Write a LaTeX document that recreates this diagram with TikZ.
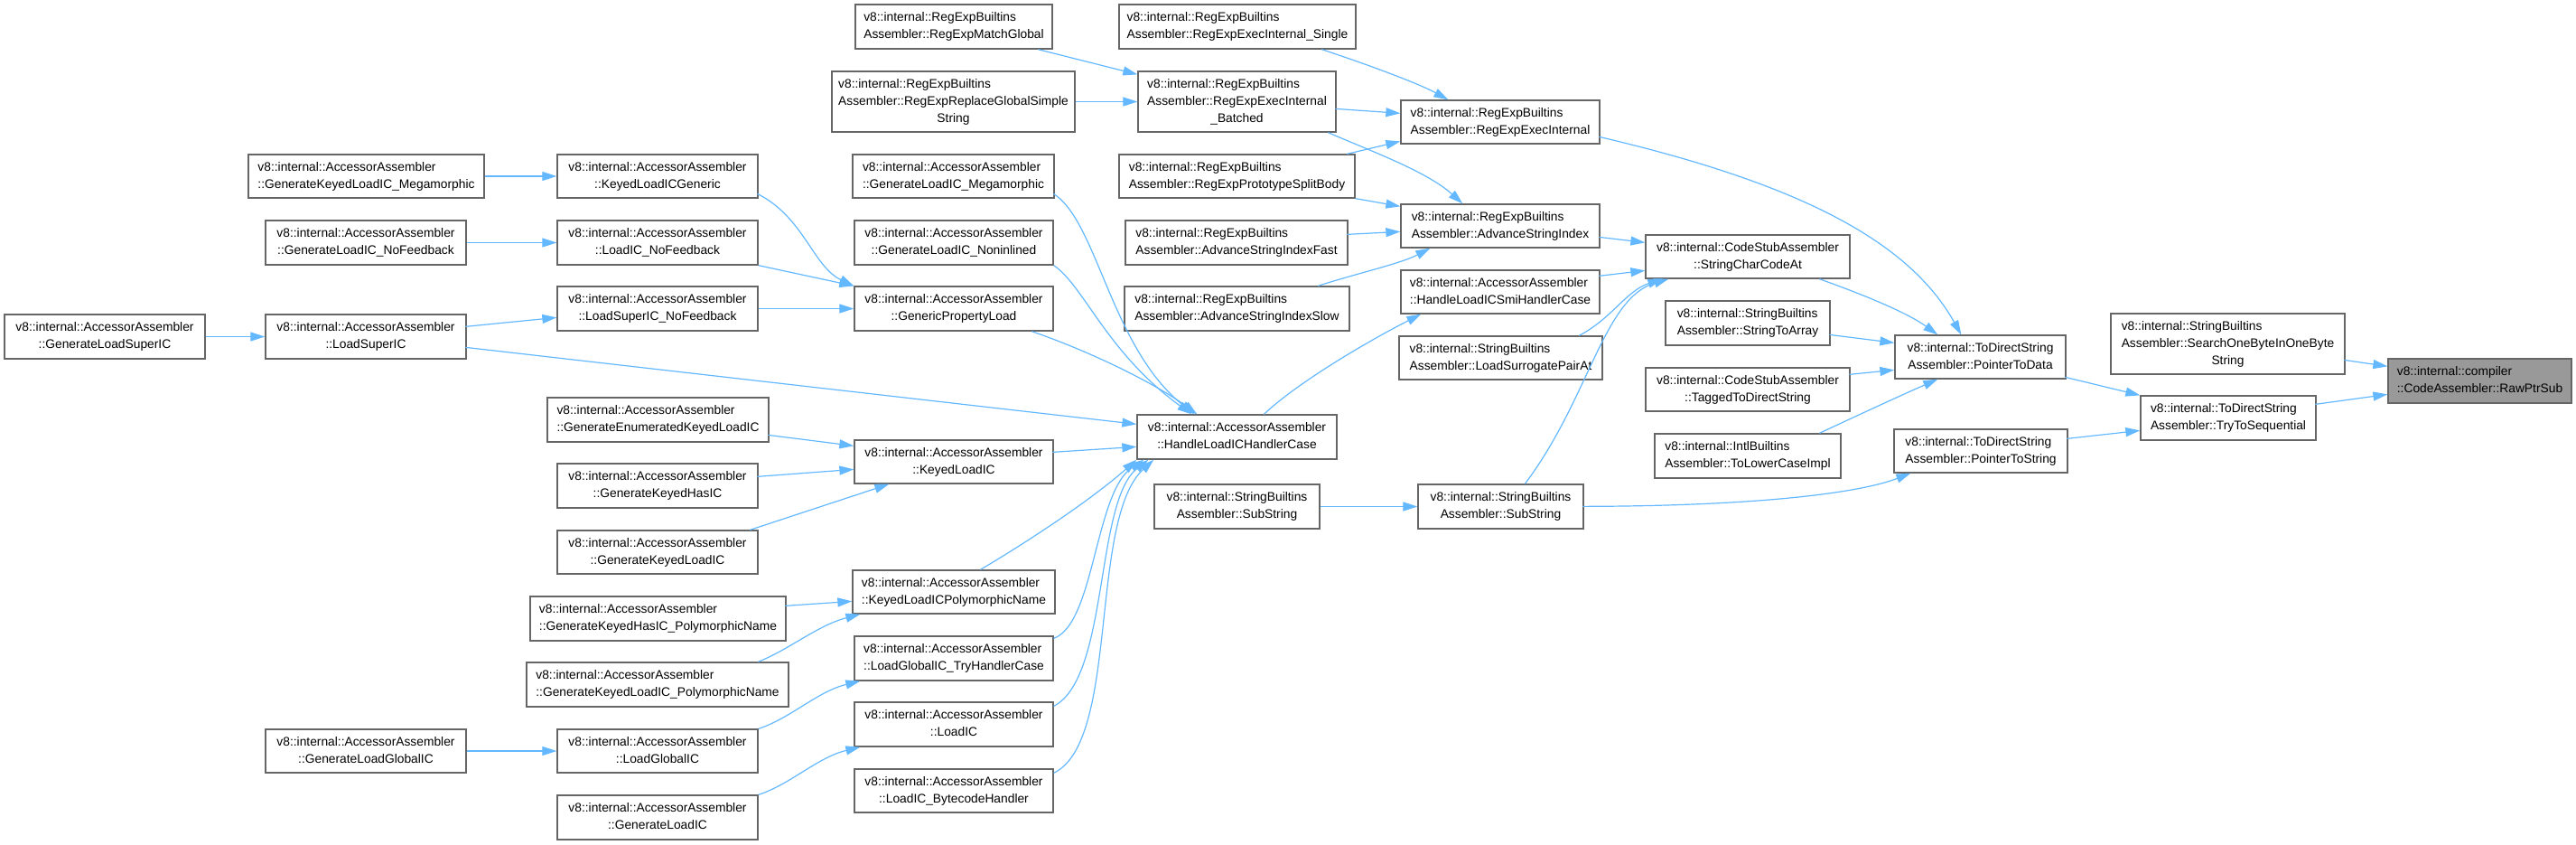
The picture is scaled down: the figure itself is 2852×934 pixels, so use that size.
\documentclass[tikz,border=0pt]{standalone}
\usepackage{fontspec}
\setmainfont{Liberation Sans}
\usetikzlibrary{arrows.meta,calc}
\definecolor{edgec}{HTML}{63B8FF}
\definecolor{boxc}{HTML}{666666}
\definecolor{fillg}{HTML}{999999}
\newdimen\lblw
\newcommand\twoL[2]{{\setbox0=\hbox{\strut#1}\setbox2=\hbox{\strut#2}%
 \lblw=\wd0\relax \ifdim\wd2>\lblw \lblw=\wd2\relax \fi
 \vbox{\hbox to\lblw{\box0\hfil}\hbox to\lblw{\hfil\box2\hfil}}}}
\newcommand\threeL[3]{{\setbox0=\hbox{\strut#1}\setbox2=\hbox{\strut#2}\setbox4=\hbox{\strut#3}%
 \lblw=\wd0\relax \ifdim\wd2>\lblw \lblw=\wd2\relax \fi \ifdim\wd4>\lblw \lblw=\wd4\relax \fi
 \vbox{\hbox to\lblw{\box0\hfil}\hbox to\lblw{\box2\hfil}\hbox to\lblw{\hfil\box4\hfil}}}}
\tikzset{
  box/.style={draw=boxc,line width=0.65pt,fill=white,inner sep=0pt,
    font=\fontsize{6.9}{9.5}\selectfont},
  arr/.style={draw=edgec,line width=0.6pt,-{Triangle[length=8pt,width=5pt]}}
}
\newcommand\N[7][]{\node[box,#1,minimum width={(#5-#3)*0.5pt},minimum height={(#6-#4)*0.5pt}] (#2) at ({(#3+#5)/2},{(#4+#6)/2}) {#7};}
\def\AA{v8::internal::AccessorAssembler}
\def\RB{v8::internal::RegExpBuiltins}
\def\SB{v8::internal::StringBuiltins}
\def\CSA{v8::internal::CodeStubAssembler}
\def\TDS{v8::internal::ToDirectString}
\begin{document}
\begin{tikzpicture}[x=0.5pt,y=-0.5pt]
\useasboundingbox (0,0) rectangle (2852,934);
% column 1-2
\N{gLSIC}{5}{348}{227}{397}{\twoL{\AA}{::GenerateLoadSuperIC}}
\N{gKMeg}{275}{171}{536}{219}{\twoL{\AA}{::GenerateKeyedLoadIC\_Megamorphic}}
\N{gLNoF}{294}{244}{516}{293}{\twoL{\AA}{::GenerateLoadIC\_NoFeedback}}
\N{lSIC}{294}{348}{516}{397}{\twoL{\AA}{::LoadSuperIC}}
\N{gLGIC}{294}{807}{516}{855}{\twoL{\AA}{::GenerateLoadGlobalIC}}
% column 3
\N{kLICG}{617}{171}{839}{219}{\twoL{\AA}{::KeyedLoadICGeneric}}
\N{lICNoF}{617}{244}{839}{293}{\twoL{\AA}{::LoadIC\_NoFeedback}}
\N{lSICNoF}{617}{317}{839}{366}{\twoL{\AA}{::LoadSuperIC\_NoFeedback}}
\N{gEKL}{606}{440}{851}{489}{\twoL{\AA}{::GenerateEnumeratedKeyedLoadIC}}
\N{gKH}{617}{513}{839}{562}{\twoL{\AA}{::GenerateKeyedHasIC}}
\N{gKL}{617}{587}{839}{635}{\twoL{\AA}{::GenerateKeyedLoadIC}}
\N{gKHPN}{587}{660}{870}{709}{\twoL{\AA}{::GenerateKeyedHasIC\_PolymorphicName}}
\N{gKLPN}{583}{733}{873}{782}{\twoL{\AA}{::GenerateKeyedLoadIC\_PolymorphicName}}
\N{lGIC}{617}{807}{839}{855}{\twoL{\AA}{::LoadGlobalIC}}
\N{gLIC}{617}{880}{839}{929}{\twoL{\AA}{::GenerateLoadIC}}
% column 4
\N{mGlob}{947}{5}{1165}{54}{\twoL{\RB}{Assembler::RegExpMatchGlobal}}
\N{replGS}{921}{79}{1190}{146}{\threeL{\RB}{Assembler::RegExpReplaceGlobalSimple}{String}}
\N{gLMeg}{944}{171}{1167}{219}{\twoL{\AA}{::GenerateLoadIC\_Megamorphic}}
\N{gLNonin}{946}{244}{1166}{293}{\twoL{\AA}{::GenerateLoadIC\_Noninlined}}
\N{gPL}{946}{317}{1166}{366}{\twoL{\AA}{::GenericPropertyLoad}}
\N{kLIC}{946}{487}{1166}{535}{\twoL{\AA}{::KeyedLoadIC}}
\N{kLICPN}{944}{631}{1168}{679}{\twoL{\AA}{::KeyedLoadICPolymorphicName}}
\N{lGICTHC}{946}{704}{1166}{753}{\twoL{\AA}{::LoadGlobalIC\_TryHandlerCase}}
\N{lIC}{946}{777}{1166}{826}{\twoL{\AA}{::LoadIC}}
\N{lICBH}{946}{851}{1166}{899}{\twoL{\AA}{::LoadIC\_BytecodeHandler}}
% column 5
\N{execSingle}{1239}{5}{1501}{54}{\twoL{\RB}{Assembler::RegExpExecInternal\_Single}}
\N{execBatched}{1260}{79}{1479}{146}{\threeL{\RB}{Assembler::RegExpExecInternal}{\_Batched}}
\N{splitBody}{1239}{171}{1500}{219}{\twoL{\RB}{Assembler::RegExpPrototypeSplitBody}}
\N{advFast}{1246}{244}{1492}{293}{\twoL{\RB}{Assembler::AdvanceStringIndexFast}}
\N{advSlow}{1245}{317}{1494}{366}{\twoL{\RB}{Assembler::AdvanceStringIndexSlow}}
\N{hLICHC}{1259}{459}{1480}{508}{\twoL{\AA}{::HandleLoadICHandlerCase}}
\N{subL}{1278}{536}{1461}{585}{\twoL{\SB}{Assembler::SubString}}
% column 6
\N{execInt}{1551}{111}{1771}{159}{\twoL{\RB}{Assembler::RegExpExecInternal}}
\N{advSI}{1551}{226}{1771}{274}{\twoL{\RB}{Assembler::AdvanceStringIndex}}
\N{hSmi}{1551}{299}{1771}{347}{\twoL{\AA}{::HandleLoadICSmiHandlerCase}}
\N{surr}{1549}{372}{1774}{420}{\twoL{\SB}{Assembler::LoadSurrogatePairAt}}
\N{subR}{1570}{536}{1753}{585}{\twoL{\SB}{Assembler::SubString}}
% column 7
\N{charAt}{1822}{260}{2048}{308}{\twoL{\CSA}{::StringCharCodeAt}}
\N{toArr}{1844}{333}{2026}{382}{\twoL{\SB}{Assembler::StringToArray}}
\N{tagged}{1822}{407}{2048}{455}{\twoL{\CSA}{::TaggedToDirectString}}
\N{lower}{1832}{480}{2038}{529}{\twoL{v8::internal::IntlBuiltins}{Assembler::ToLowerCaseImpl}}
% column 8-10
\N{ptrData}{2098}{371}{2287}{419}{\twoL{\TDS}{Assembler::PointerToData}}
\N{ptrStr}{2097}{475}{2289}{523}{\twoL{\TDS}{Assembler::PointerToString}}
\N{search}{2337}{347}{2596}{414}{\threeL{\SB}{Assembler::SearchOneByteInOneByte}{String}}
\N{trySeq}{2370}{438}{2564}{487}{\twoL{\TDS}{Assembler::TryToSequential}}
\N[fill=fillg]{raw}{2644}{397}{2847}{446}{\twoL{v8::internal::compiler}{::CodeAssembler::RawPtrSub}}
% edges
\draw[arr] (gKMeg.east) -- (kLICG.west);
\draw[arr] (gLNoF.east) -- (lICNoF.west);
\draw[arr] (gLSIC.east) -- (lSIC.west);
\draw[arr] ($(lSIC.north west)+(222,14)$) -- ($(lSICNoF.north west)+(0,35)$);
\draw[arr] ($(lSIC.north west)+(222,37)$) -- ($(hLICHC.north west)+(0,11)$);
\draw[arr] ($(kLICG.north west)+(222,44)$) .. controls (890,240) and (900,295) .. (gPL.north west);
\draw[arr] (lICNoF.south east) -- (gPL.north west);
\draw[arr] (lSICNoF.east) -- (gPL.west);
\draw[arr] ($(gPL.south west)+(197,0)$) .. controls (1210,390) and (1280,425) .. ($(hLICHC.north west)+(67,0)$);
\draw[arr] ($(gLMeg.north west)+(223,44)$) .. controls (1215,245) and (1230,385) .. ($(hLICHC.north west)+(64,0)$);
\draw[arr] (gLNonin.south east) .. controls (1200,316) and (1225,390) .. ($(hLICHC.north west)+(61,0)$);
\draw[arr] ($(gEKL.north west)+(245,42)$) -- ($(kLIC.north west)+(0,7)$);
\draw[arr] ($(gKH.north west)+(222,15)$) -- ($(kLIC.north west)+(0,33)$);
\draw[arr] ($(gKL.north west)+(214,0)$) -- ($(kLIC.south west)+(39,0)$);
\draw[arr] ($(kLIC.north west)+(220,14)$) -- ($(hLICHC.north west)+(0,36)$);
\draw[arr] ($(gKHPN.north west)+(283,11)$) -- ($(kLICPN.north west)+(0,35)$);
\draw[arr] ($(gKLPN.north west)+(257,0)$) .. controls (875,718) and (905,692) .. ($(kLICPN.south west)+(9,0)$);
\draw[arr] (gLGIC.east) -- (lGIC.west);
\draw[arr] (lGIC.north east) .. controls (875,795) and (905,765) .. ($(lGICTHC.south west)+(7,0)$);
\draw[arr] (gLIC.north east) .. controls (875,868) and (905,838) .. ($(lIC.south west)+(7,0)$);
\draw[arr] ($(kLICPN.north west)+(142,0)$) .. controls (1120,610) and (1200,560) .. (hLICHC.south west);
\draw[arr] ($(lGICTHC.north east)+(0,3)$) .. controls (1212,690) and (1212,545) .. ($(hLICHC.south west)+(8,0)$);
\draw[arr] ($(lIC.north east)+(0,5)$) .. controls (1228,750) and (1212,555) .. ($(hLICHC.south west)+(13,0)$);
\draw[arr] ($(lICBH.north east)+(0,5)$) .. controls (1240,820) and (1205,575) .. ($(hLICHC.south west)+(19,0)$);
\draw[arr] ($(hLICHC.north west)+(141,0)$) .. controls (1440,420) and (1525,372) .. ($(hSmi.south west)+(23,0)$);
\draw[arr] ($(mGlob.south west)+(203,0)$) -- ($(execBatched.north west)+(0,4)$);
\draw[arr] (replGS.east) -- (execBatched.west);
\draw[arr] ($(execSingle.south west)+(225,0)$) .. controls (1510,70) and (1570,92) .. ($(execInt.north west)+(53,0)$);
\draw[arr] ($(execBatched.north west)+(219,42)$) -- ($(execInt.north west)+(0,15)$);
\draw[arr] ($(execBatched.south west)+(211,0)$) .. controls (1520,168) and (1580,190) .. ($(advSI.north west)+(69,0)$);
\draw[arr] ($(splitBody.north west)+(253,0)$) -- ($(execInt.north west)+(0,46)$);
\draw[arr] (splitBody.south east) -- ($(advSI.north west)+(0,3)$);
\draw[arr] ($(advFast.north west)+(246,16)$) -- ($(advSI.north west)+(0,31)$);
\draw[arr] ($(advSlow.north west)+(215,0)$) .. controls (1500,303) and (1550,292) .. ($(advSI.south west)+(33,0)$);
\draw[arr] ($(advSI.north west)+(220,37)$) -- ($(charAt.north west)+(0,9)$);
\draw[arr] ($(hSmi.north west)+(220,7)$) -- ($(charAt.north west)+(0,40)$);
\draw[arr] ($(surr.north west)+(200,0)$) .. controls (1785,352) and (1800,322) .. ($(charAt.south west)+(19,0)$);
\draw[arr] ($(subR.north west)+(119,0)$) .. controls (1760,440) and (1775,330) .. ($(charAt.south west)+(26,0)$);
\draw[arr] (subL.east) -- (subR.west);
\draw[arr] ($(subR.north west)+(183,25)$) .. controls (1950,560) and (2060,545) .. ($(ptrStr.south west)+(19,0)$);
\draw[arr] ($(execInt.north west)+(220,41)$) .. controls (2000,205) and (2115,270) .. ($(ptrData.north west)+(74,0)$);
\draw[arr] ($(charAt.south west)+(193,0)$) .. controls (2060,325) and (2110,345) .. ($(ptrData.north west)+(48,0)$);
\draw[arr] ($(toArr.north west)+(182,38)$) -- ($(ptrData.north west)+(0,9)$);
\draw[arr] ($(tagged.north west)+(226,8)$) -- ($(ptrData.north west)+(0,39)$);
\draw[arr] ($(lower.north west)+(183,0)$) .. controls (2060,458) and (2110,435) .. ($(ptrData.south west)+(48,0)$);
\draw[arr] ($(ptrData.north west)+(189,47)$) -- (trySeq.north west);
\draw[arr] ($(ptrStr.north west)+(192,11)$) -- ($(trySeq.north west)+(0,39)$);
\draw[arr] ($(search.north west)+(259,52)$) -- ($(raw.north west)+(0,9)$);
\draw[arr] ($(trySeq.north west)+(194,10)$) -- ($(raw.north west)+(0,40)$);
\end{tikzpicture}
\end{document}
